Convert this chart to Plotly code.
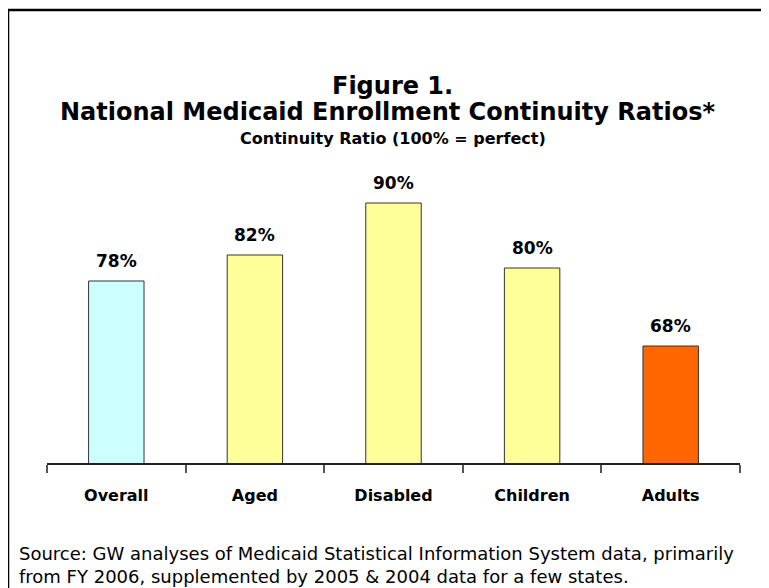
import plotly.graph_objects as go

categories = ["Overall", "Aged", "Disabled", "Children", "Adults"]
values = [78, 82, 90, 80, 68]
labels = ["78%", "82%", "90%", "80%", "68%"]
colors = ["#CCFFFF", "#FFFF99", "#FFFF99", "#FFFF99", "#FF6600"]

OFF = 8  # default page body margin
W, H = 769 - OFF, 588 - OFF
ml, mr = 47 - OFF, 29
mt, mb = 138 - OFF, 588 - 463
pw, ph = W - ml - mr, H - mt - mb

def px(x):
    return (x - OFF - ml) / pw

def py(y):
    return 1 - (y - OFF - mt) / ph

FONT = "DejaVu Sans, Liberation Sans, Arial, sans-serif"

fig = go.Figure()
fig.add_trace(go.Bar(
    x=categories, y=values, base=0, width=0.4,
    marker=dict(color=colors, line=dict(color="#333333", width=1)),
    hoverinfo="skip",
))

for c, v, t in zip(categories, values, labels):
    fig.add_annotation(x=c, y=v, text="<b>%s</b>" % t, showarrow=False,
                       xanchor="center", yanchor="bottom", yshift=8,
                       font=dict(family=FONT, size=17, color="black"))

fig.update_layout(
    width=W, height=H,
    margin=dict(l=ml, r=mr, t=mt, b=mb),
    paper_bgcolor="white", plot_bgcolor="white",
    showlegend=False,
    font=dict(family=FONT, color="black"),
    xaxis=dict(
        type="category", range=[-0.5, 4.5],
        showline=True, linecolor="#222222", linewidth=1.5,
        ticks="outside", tickson="boundaries", ticklen=8, tickcolor="#555555", tickwidth=1.5,
        tickfont=dict(family=FONT, size=16, color="black", weight="bold"),
        ticklabelstandoff=17,
        showgrid=False,
    ),
    yaxis=dict(range=[50, 100], visible=False, showgrid=False),
)

# titles
fig.add_annotation(text="<b>Figure 1.</b>", x=px(392), y=py(86), xref="paper", yref="paper",
                   xanchor="center", yanchor="middle", showarrow=False,
                   font=dict(family=FONT, size=24))
fig.add_annotation(text="<b>National Medicaid Enrollment Continuity Ratios*</b>", x=px(387), y=py(112),
                   xref="paper", yref="paper", xanchor="center", yanchor="middle", showarrow=False,
                   font=dict(family=FONT, size=24))
fig.add_annotation(text="<b>Continuity Ratio (100% = perfect)</b>", x=px(393), y=py(138),
                   xref="paper", yref="paper", xanchor="center", yanchor="middle", showarrow=False,
                   font=dict(family=FONT, size=16))
fig.add_annotation(text="Source: GW analyses of Medicaid Statistical Information System data, primarily<br>from FY 2006, supplemented by 2005 & 2004 data for a few states.",
                   x=px(17), y=py(565), xref="paper", yref="paper", xanchor="left", yanchor="middle",
                   align="left", showarrow=False, font=dict(family=FONT, size=18))

# frame
fig.add_shape(type="line", xref="paper", yref="paper", x0=px(8), x1=px(769), y0=py(10), y1=py(10),
              line=dict(color="black", width=2.5))
fig.add_shape(type="line", xref="paper", yref="paper", x0=px(8), x1=px(8), y0=py(10), y1=py(588),
              line=dict(color="black", width=2.5))

fig.write_html("out.html")
